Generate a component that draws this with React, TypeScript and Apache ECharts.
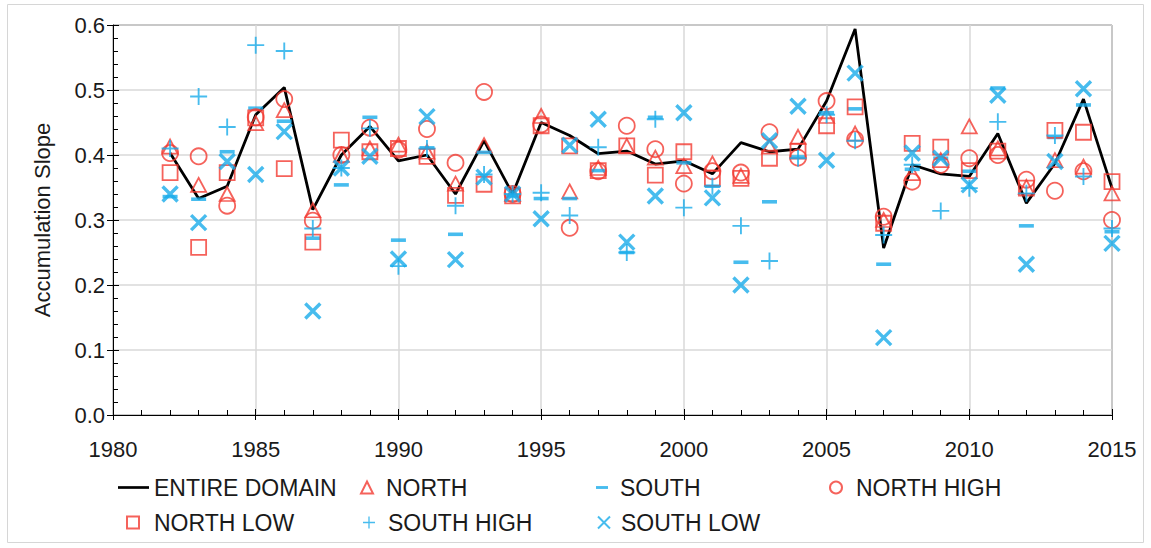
import React, { useEffect, useRef } from "react";
import * as echarts from "echarts";

const years = [1982, 1983, 1984, 1985, 1986, 1987, 1988, 1989, 1990, 1991, 1992, 1993, 1994, 1995, 1996, 1997, 1998, 1999, 2000, 2001, 2002, 2003, 2004, 2005, 2006, 2007, 2008, 2009, 2010, 2011, 2012, 2013, 2014, 2015];

const entireDomain = [0.403, 0.333, 0.352, 0.462, 0.504, 0.316, 0.400, 0.444, 0.391, 0.400, 0.340, 0.422, 0.340, 0.450, 0.430, 0.402, 0.406, 0.386, 0.391, 0.371, 0.419, 0.405, 0.409, 0.483, 0.594, 0.257, 0.385, 0.371, 0.367, 0.433, 0.326, 0.387, 0.486, 0.349];
const north = [0.413, 0.354, 0.340, 0.449, 0.469, 0.315, 0.400, 0.410, 0.416, 0.405, 0.356, 0.415, 0.340, 0.460, 0.344, 0.380, 0.414, 0.396, 0.383, 0.387, 0.368, 0.413, 0.428, 0.460, 0.433, 0.300, 0.372, 0.392, 0.444, 0.410, 0.351, 0.392, 0.382, 0.341];
const south = [0.336, 0.332, 0.405, 0.472, 0.452, 0.272, 0.354, 0.458, 0.269, 0.411, 0.278, 0.404, 0.337, 0.333, 0.333, 0.376, 0.250, 0.458, 0.388, 0.352, 0.235, 0.328, 0.397, 0.465, 0.471, 0.232, 0.378, 0.395, 0.375, 0.503, 0.291, 0.427, 0.477, 0.282];
const northHigh = [0.403, 0.398, 0.322, 0.458, 0.486, 0.299, 0.400, 0.442, 0.408, 0.440, 0.388, 0.497, 0.340, 0.447, 0.288, 0.375, 0.445, 0.409, 0.356, 0.375, 0.373, 0.435, 0.396, 0.483, 0.424, 0.305, 0.359, 0.385, 0.395, 0.400, 0.362, 0.345, 0.375, 0.300];
const northLow = [0.373, 0.258, 0.373, 0.457, 0.379, 0.266, 0.423, 0.405, 0.410, 0.398, 0.338, 0.355, 0.337, 0.445, 0.414, 0.376, 0.414, 0.369, 0.405, 0.364, 0.364, 0.395, 0.406, 0.445, 0.474, 0.295, 0.418, 0.412, 0.376, 0.406, 0.349, 0.438, 0.435, 0.359];
const southHigh = [0.410, 0.490, 0.443, 0.569, 0.560, 0.287, 0.380, 0.441, 0.229, 0.410, 0.322, 0.370, 0.340, 0.342, 0.307, 0.412, 0.250, 0.455, 0.319, 0.352, 0.291, 0.237, 0.395, 0.462, 0.422, 0.277, 0.385, 0.314, 0.349, 0.451, 0.341, 0.430, 0.367, 0.287];
const southLow = [0.340, 0.296, 0.390, 0.370, 0.436, 0.160, 0.380, 0.398, 0.240, 0.459, 0.239, 0.366, 0.340, 0.302, 0.415, 0.455, 0.266, 0.337, 0.465, 0.334, 0.200, 0.422, 0.475, 0.392, 0.526, 0.119, 0.403, 0.395, 0.354, 0.492, 0.232, 0.390, 0.502, 0.264];

const seriesNames = ["ENTIRE DOMAIN", "NORTH", "SOUTH", "NORTH HIGH", "NORTH LOW", "SOUTH HIGH", "SOUTH LOW"];

const RED = "#f23b32";
const BLUE = "#19abea";
const FONT = "'Liberation Sans', Arial, Helvetica, sans-serif";

const PLUS = "path://M4.45,0H5.55V4.45H10V5.55H5.55V10H4.45V5.55H0V4.45H4.45Z";
const CROSS = "path://M0,0L10,10M10,0L0,10";
const DASH_ICON = "path://M0,0H10V2.4H0Z";
const LINE_ICON = "path://M0,0H30V2.6H0Z";

const pairs = (vals: number[]) => years.map((y, i) => [y, vals[i]]);

export default function App() {
  const ref = useRef<HTMLDivElement>(null);
  useEffect(() => {
    if (!ref.current) return;
    const chart = echarts.init(ref.current, null, { renderer: "svg" });

    const hollow = (color: string, w = 1.8) => ({ color: "transparent", borderColor: color, borderWidth: w });

    const legendItem = (name: string, left: number, top: number, padLeft: number, opts: any = {}) => ({
      show: true,
      left,
      top,
      padding: 0,
      itemWidth: opts.itemWidth ?? 12,
      itemHeight: opts.itemHeight ?? 12,
      data: [opts.icon ? { name, icon: opts.icon } : { name }],
      selectedMode: false,
      textStyle: { fontFamily: FONT, fontSize: 23, color: "#1a1a1a", padding: [0, 0, 0, padLeft] },
    });

    const baseAxisLine = { show: true, lineStyle: { color: "#000", width: 1 } };

    chart.setOption({
      animation: false,
      backgroundColor: "#fff",
      grid: { left: 113, right: 39, top: 25, bottom: 133, show: true, borderColor: "#333", borderWidth: 1 },
      graphic: [
        { type: "rect", shape: { x: 7.5, y: 4.5, width: 1136, height: 538 }, style: { fill: "none", stroke: "#d6d6d6", lineWidth: 1 }, silent: true, z: -10 },
      ],
      xAxis: [
        {
          type: "value", min: 1980, max: 2015, interval: 5, position: "bottom",
          axisLine: baseAxisLine,
          axisTick: { show: true, inside: false, length: 5, lineStyle: { color: "#000" } },
          axisLabel: { fontFamily: FONT, fontSize: 22, color: "#1a1a1a", margin: 23, formatter: (v: number) => String(v) },
          splitLine: { show: true, lineStyle: { color: "#d9d9d9", width: 1.5 } },
        },
        {
          type: "value", min: 1980, max: 2015, interval: 5, position: "bottom",
          axisLine: { show: false },
          axisTick: { show: true, inside: true, length: 6, lineStyle: { color: "#000" } },
          minorTick: { show: true, splitNumber: 5, length: 5, lineStyle: { color: "#000" } },
          axisLabel: { show: false },
          splitLine: { show: false },
        },
      ],
      yAxis: [
        {
          type: "value", min: 0, max: 0.6, interval: 0.1, position: "left",
          name: "Accumulation Slope", nameLocation: "middle", nameGap: 60,
          nameTextStyle: { fontFamily: FONT, fontSize: 22, color: "#1a1a1a" },
          axisLine: baseAxisLine,
          axisTick: { show: true, inside: false, length: 6, lineStyle: { color: "#000" } },
          axisLabel: { fontFamily: FONT, fontSize: 22, color: "#1a1a1a", margin: 8, formatter: (v: number) => v.toFixed(1) },
          splitLine: { show: true, lineStyle: { color: "#d9d9d9", width: 1.5 } },
        },
        {
          type: "value", min: 0, max: 0.6, interval: 0.1, position: "left",
          axisLine: { show: false },
          axisTick: { show: true, inside: true, length: 6, lineStyle: { color: "#000" } },
          minorTick: { show: true, splitNumber: 5, length: 5, lineStyle: { color: "#000" } },
          axisLabel: { show: false },
          splitLine: { show: false },
        },
      ],
      legend: [
        legendItem(seriesNames[0], 118, 476, 0, { itemWidth: 31, itemHeight: 3, icon: LINE_ICON }),
        legendItem(seriesNames[1], 360, 476, 8),
        legendItem(seriesNames[2], 596, 476, 7, { icon: DASH_ICON }),
        legendItem(seriesNames[3], 829, 476, 9),
        legendItem(seriesNames[4], 126, 511, 10),
        legendItem(seriesNames[5], 363, 511, 8),
        legendItem(seriesNames[6], 597, 511, 6),
      ],
      series: [
        {
          type: "line", name: seriesNames[0], data: pairs(entireDomain), symbol: "none",
          lineStyle: { color: "#000", width: 2.8 }, itemStyle: { color: "#000" }, z: 2,
        },
        { type: "scatter", name: seriesNames[1], data: pairs(north), symbol: "triangle", symbolSize: [15, 14], itemStyle: hollow(RED), z: 3 },
        { type: "scatter", name: seriesNames[2], data: pairs(south), symbol: "rect", symbolSize: [15, 3.6], itemStyle: { color: BLUE }, z: 3 },
        { type: "scatter", name: seriesNames[3], data: pairs(northHigh), symbol: "circle", symbolSize: 16, itemStyle: hollow(RED), z: 3 },
        { type: "scatter", name: seriesNames[4], data: pairs(northLow), symbol: "rect", symbolSize: 15, itemStyle: hollow(RED), z: 3 },
        { type: "scatter", name: seriesNames[5], data: pairs(southHigh), symbol: PLUS, symbolSize: 17, itemStyle: { color: BLUE }, z: 3 },
        { type: "scatter", name: seriesNames[6], data: pairs(southLow), symbol: CROSS, symbolSize: 15, itemStyle: { color: "transparent", borderColor: BLUE, borderWidth: 3.4 }, z: 3 },
      ],
    });
    return () => chart.dispose();
  }, []);
  return <div ref={ref} style={{ position: "fixed", left: 0, top: 0, width: 1151, height: 548 }} />;
}
